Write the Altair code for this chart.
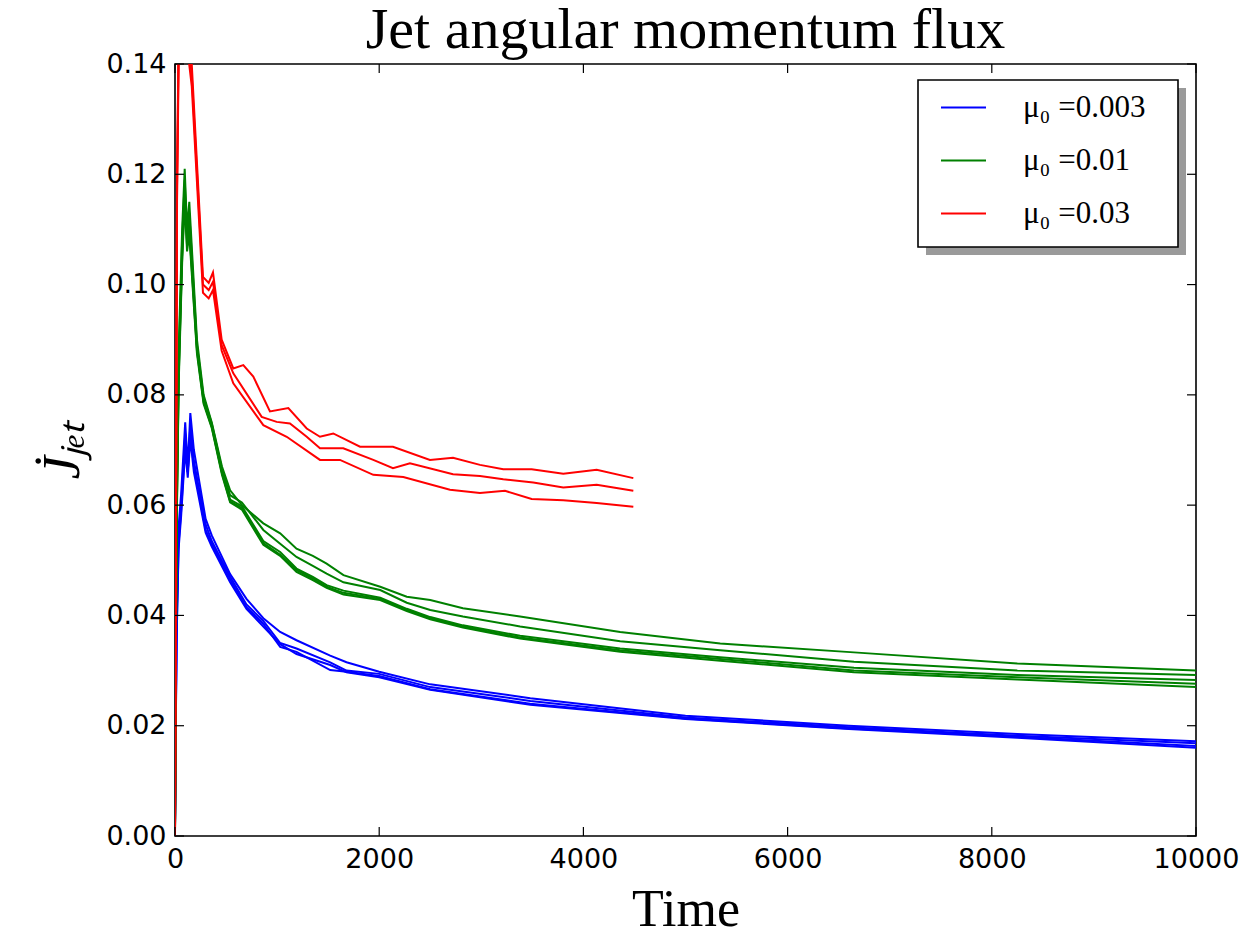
import altair as alt
import pandas as pd

# ---------------- data ----------------
labels = ["μ₀ =0.003", "μ₀ =0.01", "μ₀ =0.03"]
colors = ["#0000ff", "#008000", "#ff0000"]

x_ticks = [0, 2000, 4000, 6000, 8000, 10000]
y_ticks = [0.00, 0.02, 0.04, 0.06, 0.08, 0.10, 0.12, 0.14]

# mu0 = 0.003 runs (blue)
blue_t = [0, 15, 35, 60, 100, 125, 150, 185, 300, 360, 540, 700, 865, 1030, 1190,
          1520, 1680, 2000, 2500, 3480, 5000, 6600, 8250, 10000]
blue_a = [0.002, 0.040, 0.056, 0.062, 0.075, 0.067, 0.0767, 0.070, 0.0575, 0.0545, 0.0475, 0.0430,
          0.0395, 0.0370, 0.0355, 0.0327, 0.0315, 0.0298, 0.0275, 0.0250, 0.0218, 0.0200, 0.0185, 0.0172]
blue_b = [0.002, 0.038, 0.055, 0.060, 0.073, 0.066, 0.0745, 0.068, 0.0565, 0.0535, 0.0470, 0.0420,
          0.0390, 0.0350, 0.0340, 0.0315, 0.0300, 0.0294, 0.0270, 0.0245, 0.0215, 0.0197, 0.0182, 0.0168]
blue_c = [0.002, 0.036, 0.053, 0.059, 0.071, 0.066, 0.0730, 0.067, 0.0555, 0.0530, 0.0465, 0.0415,
          0.0385, 0.0343, 0.0334, 0.0301, 0.0298, 0.0290, 0.0266, 0.0240, 0.0213, 0.0195, 0.0180, 0.0163]
blue_d = [0.002, 0.035, 0.052, 0.058, 0.070, 0.065, 0.0720, 0.066, 0.0550, 0.0525, 0.0460, 0.0412,
          0.0380, 0.0348, 0.0330, 0.0310, 0.0297, 0.0288, 0.0265, 0.0238, 0.0212, 0.0194, 0.0178, 0.0160]

# mu0 = 0.01 runs (green)
green_t = [0, 15, 36, 70, 95, 118, 140, 215, 280, 360, 460, 540, 655, 865, 1030, 1190, 1350,
           1485, 1650, 2010, 2270, 2500, 2820, 3380, 4360, 5340, 6650, 8250, 10000]
green_a = [0.001, 0.060, 0.088, 0.110, 0.121, 0.110, 0.115, 0.090, 0.0800, 0.0750, 0.0670, 0.0627,
           0.0600, 0.0567, 0.0549, 0.0521, 0.0508, 0.0494, 0.0473, 0.0452, 0.0434, 0.0428, 0.0413,
           0.0398, 0.0370, 0.0349, 0.0333, 0.0313, 0.0300]
green_b = [0.001, 0.058, 0.086, 0.108, 0.119, 0.109, 0.113, 0.089, 0.0795, 0.0748, 0.0665, 0.0618,
           0.0605, 0.0555, 0.0530, 0.0506, 0.0490, 0.0476, 0.0460, 0.0446, 0.0423, 0.0410, 0.0398,
           0.0380, 0.0353, 0.0337, 0.0316, 0.0300, 0.0292]
green_c = [0.001, 0.056, 0.084, 0.106, 0.117, 0.108, 0.111, 0.0885, 0.0790, 0.0745, 0.0660, 0.0610,
           0.0598, 0.0535, 0.0515, 0.0485, 0.0470, 0.0455, 0.0445, 0.0432, 0.0412, 0.0397, 0.0382,
           0.0363, 0.0340, 0.0324, 0.0305, 0.0292, 0.0283]
green_d = [0.001, 0.055, 0.083, 0.105, 0.116, 0.107, 0.110, 0.0880, 0.0787, 0.0742, 0.0658, 0.0607,
           0.0595, 0.0531, 0.0510, 0.0482, 0.0467, 0.0452, 0.0441, 0.0430, 0.0410, 0.0395, 0.0380,
           0.0360, 0.0337, 0.0321, 0.0300, 0.0288, 0.0276]
green_e = [0.001, 0.054, 0.082, 0.104, 0.115, 0.106, 0.109, 0.0875, 0.0784, 0.0740, 0.0655, 0.0605,
           0.0592, 0.0528, 0.0508, 0.0479, 0.0464, 0.0450, 0.0438, 0.0428, 0.0408, 0.0393, 0.0378,
           0.0358, 0.0334, 0.0318, 0.0297, 0.0284, 0.0270]

# mu0 = 0.03 runs (red)
red_a_t = [0, 20, 45, 164, 274, 330, 372, 457, 571, 669, 767, 930, 1110, 1290, 1420, 1550, 1812,
           2135, 2497, 2723, 2987, 3215, 3493, 3803, 4130, 4489]
red_a = [0.0, 0.120, 0.160, 0.140, 0.1014, 0.1003, 0.1022, 0.0900, 0.0848, 0.0854, 0.0833, 0.0770,
         0.0776, 0.0739, 0.0724, 0.0730, 0.0706, 0.0706, 0.0682, 0.0686, 0.0673, 0.0665, 0.0665,
         0.0657, 0.0664, 0.0649]
red_b_t = [0, 20, 45, 164, 274, 330, 372, 457, 571, 849, 996, 1126, 1290, 1420, 1648, 1942, 2135,
           2301, 2723, 2987, 3215, 3509, 3803, 4130, 4489]
red_b = [0.0, 0.118, 0.158, 0.138, 0.1000, 0.0990, 0.1005, 0.0890, 0.0839, 0.0760, 0.0751, 0.0748,
         0.0724, 0.0703, 0.0703, 0.0682, 0.0667, 0.0676, 0.0656, 0.0653, 0.0647, 0.0641, 0.0632,
         0.0637, 0.0626]
red_c_t = [0, 20, 45, 164, 274, 330, 372, 457, 571, 865, 1094, 1420, 1616, 1942, 2236, 2693, 2987,
           3232, 3493, 3803, 4130, 4489]
red_c = [0.0, 0.115, 0.155, 0.136, 0.0985, 0.0975, 0.0990, 0.0880, 0.0821, 0.0745, 0.0724, 0.0682,
         0.0682, 0.0655, 0.0651, 0.0628, 0.0622, 0.0626, 0.0611, 0.0609, 0.0604, 0.0597]

runs = [
    (blue_t, blue_a, labels[0], "b1"), (blue_t, blue_b, labels[0], "b2"),
    (blue_t, blue_c, labels[0], "b3"), (blue_t, blue_d, labels[0], "b4"),
    (green_t, green_a, labels[1], "g1"), (green_t, green_b, labels[1], "g2"),
    (green_t, green_c, labels[1], "g3"), (green_t, green_d, labels[1], "g4"),
    (green_t, green_e, labels[1], "g5"),
    (red_a_t, red_a, labels[2], "r1"), (red_b_t, red_b, labels[2], "r2"),
    (red_c_t, red_c, labels[2], "r3"),
]
rows = []
for ts, vs, lab, run in runs:
    for i, (t, v) in enumerate(zip(ts, vs)):
        rows.append({"t": t, "v": v, "mu": lab, "run": run, "i": i})
df = pd.DataFrame(rows)

W, H = 1021, 772
xscale = alt.Scale(domain=[0, 10000], nice=False, zero=False)
yscale = alt.Scale(domain=[0, 0.14], nice=False, zero=False)

x_axis = alt.Axis(values=x_ticks, format="d", title="Time", ticks=False, domain=False, grid=False,
                  labelFont="DejaVu Sans", labelFontSize=27, labelPadding=10, labelColor="black",
                  titleFont="Liberation Serif", titleFontSize=52, titleFontWeight="normal",
                  titleColor="black", titlePadding=12, labelFlush=False)
y_axis = alt.Axis(values=y_ticks, format=".2f", title="J̇ⱼₑₜ", ticks=False, domain=False, grid=False,
                  labelFont="DejaVu Sans", labelFontSize=27, labelPadding=9, labelColor="black",
                  titleFont="Liberation Serif", titleFontSize=52, titleFontWeight="normal",
                  titleFontStyle="italic", titleColor="black", titlePadding=16, labelFlush=False)

# legend frame and its drop shadow (decoration)
dummy = pd.DataFrame({"a": [0]})
shadow = alt.Chart(dummy).mark_rect(color="#9a9a9a").encode(
    x=alt.value(751), x2=alt.value(1011), y=alt.value(24), y2=alt.value(191))
frame = alt.Chart(dummy).mark_rect(fill="white", stroke="black", strokeWidth=1.6).encode(
    x=alt.value(743), x2=alt.value(1003), y=alt.value(16), y2=alt.value(183))

lines = alt.Chart(df).mark_line(strokeWidth=2, clip=True).encode(
    x=alt.X("t:Q", scale=xscale, axis=x_axis),
    y=alt.Y("v:Q", scale=yscale, axis=y_axis),
    color=alt.Color("mu:N", scale=alt.Scale(domain=labels, range=colors),
                    legend=alt.Legend(title=None, orient="none", legendX=765, legendY=20,
                                      symbolType="stroke", symbolSize=2025, symbolStrokeWidth=2,
                                      labelFont="Liberation Serif", labelFontSize=31,
                                      labelColor="black", labelOffset=36, padding=0,
                                      rowPadding=14, labelLimit=400)),
    detail="run:N",
    order="i:Q",
)

xt = pd.DataFrame({"t": x_ticks})
yt = pd.DataFrame({"v": y_ticks})
xtick_bottom = alt.Chart(xt).mark_rule(color="black", strokeWidth=1.2).encode(
    x=alt.X("t:Q", scale=xscale, axis=x_axis), y=alt.value(H), y2=alt.value(H - 9))
xtick_top = alt.Chart(xt).mark_rule(color="black", strokeWidth=1.2).encode(
    x=alt.X("t:Q", scale=xscale, axis=x_axis), y=alt.value(0), y2=alt.value(9))
ytick_left = alt.Chart(yt).mark_rule(color="black", strokeWidth=1.2).encode(
    y=alt.Y("v:Q", scale=yscale, axis=y_axis), x=alt.value(0), x2=alt.value(9))
ytick_right = alt.Chart(yt).mark_rule(color="black", strokeWidth=1.2).encode(
    y=alt.Y("v:Q", scale=yscale, axis=y_axis), x=alt.value(W), x2=alt.value(W - 9))

chart = alt.layer(lines, xtick_bottom, xtick_top, ytick_left, ytick_right, shadow, frame).properties(
    width=W, height=H,
    background="white",
    autosize=alt.AutoSizeParams(type="none"),
    padding={"left": 167, "top": 56, "right": 50, "bottom": 102},
    title=alt.TitleParams("Jet angular momentum flux", font="Liberation Serif", fontSize=58,
                          fontWeight="normal", color="black", anchor="middle", offset=-10),
).configure_view(stroke="black", strokeWidth=1.6)

chart.save("out.html", embed_options={"renderer": "svg", "actions": False})
